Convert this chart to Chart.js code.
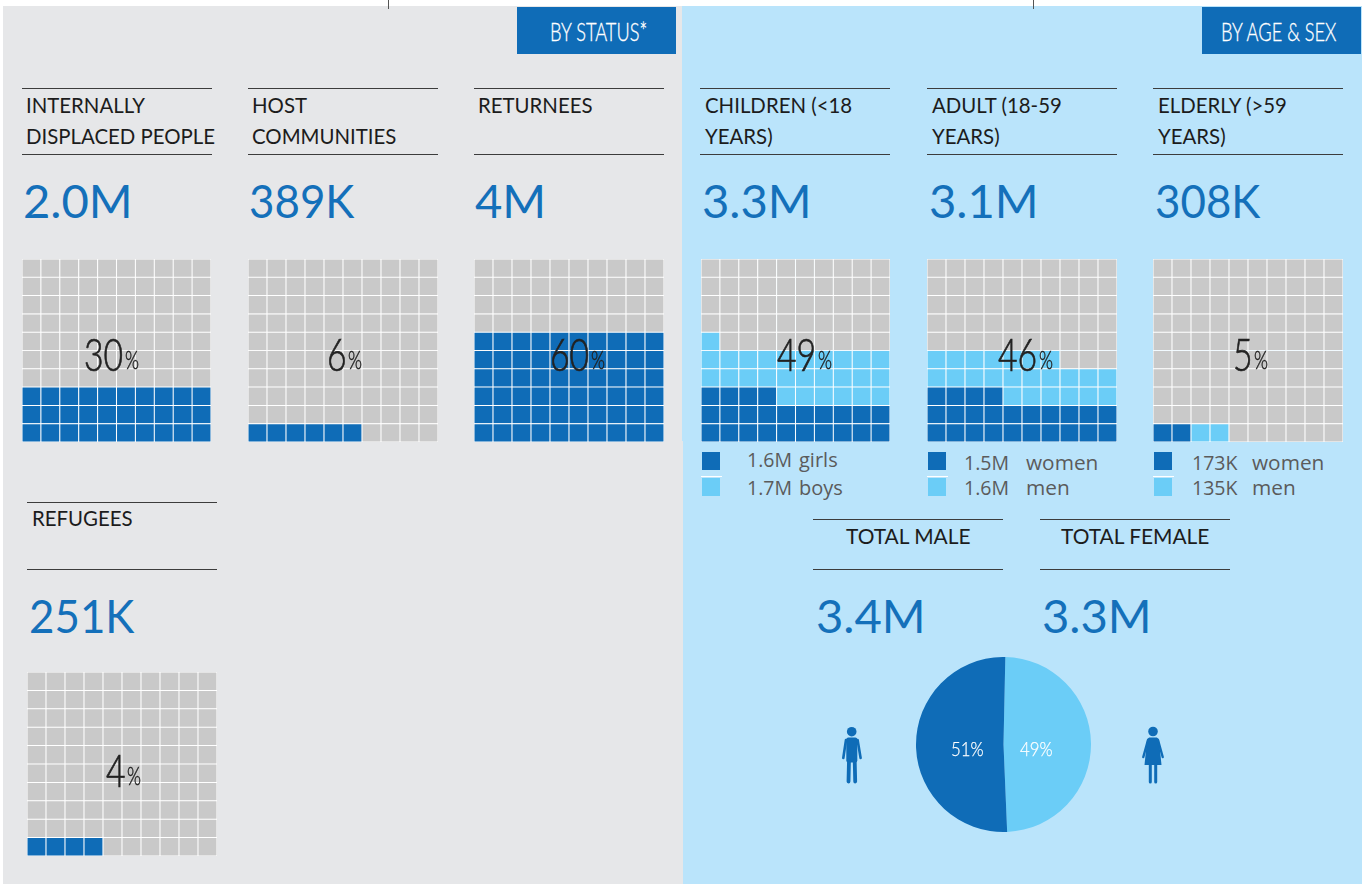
<!DOCTYPE html>
<html><head><meta charset="utf-8">
<script src="https://cdn.jsdelivr.net/npm/chart.js@4"></script>
<style>
html,body{margin:0;padding:0;background:#fff;overflow:hidden}
#page{position:relative;width:1369px;height:884px;overflow:hidden;font-family:Lato,sans-serif}
.abs{position:absolute}
.t{position:absolute;white-space:nowrap;transform-origin:left center;line-height:1}
.title{font-size:20.4px;color:#1c1c1c}
.big{font-size:47.2px;color:#1470ba}
.num{font-family:Lato;font-weight:300;-webkit-text-stroke:.7px #222;font-size:45px;color:#222;transform:scaleX(.75)}
.pct{font-family:Lato;font-weight:300;-webkit-text-stroke:.45px #222;font-size:25px;color:#222;transform:scaleX(.72)}
.leg{font-family:"Open Sans";font-size:19.5px;color:#5b5b5b}
.pie{font-family:Lato;font-weight:300;-webkit-text-stroke:.25px #fff;font-size:20.5px;color:#fff;transform:scaleX(.82)}
.btn{font-family:Lato;font-weight:300;-webkit-text-stroke:.35px #fff;font-size:26px;color:#fff;transform:scaleX(.7)}
canvas{position:absolute}
</style></head><body><div id="page"></div>
<script>
// ---- data ----
const statusTitles = [["INTERNALLY","DISPLACED PEOPLE"],["HOST","COMMUNITIES"],["RETURNEES"],["REFUGEES"]];
const statusTotals = ["2.0M","389K","4M","251K"];
const statusPercents = [30,6,60,4];
const statusCells = [30,6,60,4];
const ageTitles = [["CHILDREN (<18","YEARS)"],["ADULT (18-59","YEARS)"],["ELDERLY (>59","YEARS)"]];
const ageTotals = ["3.3M","3.1M","308K"];
const agePercents = [49,46,5];
const ageDarkCells = [24,24,2];
const ageLightCells = [27,23,2];
const legendDarkValues = ["1.6M","1.5M","173K"];
const legendLightValues = ["1.7M","1.6M","135K"];
const legendDarkNames = ["girls","women","women"];
const legendLightNames = ["boys","men","men"];
const sexLabels = ["Female","Male"];
const sexShares = [49,51];
const sexTotals = ["3.4M","3.3M"];
const sexTitles = ["TOTAL MALE","TOTAL FEMALE"];
const panelButtons = ["BY STATUS*","BY AGE & SEX"];

const DARK="#0f6cb7", LIGHT="#6bcdf7", GREY="#c9c9c9";
const page=document.getElementById('page');
function box(x,y,w,h,c){const d=document.createElement('div');d.className='abs';d.style.cssText=`left:${x}px;top:${y}px;width:${w}px;height:${h}px;background:${c}`;page.appendChild(d);return d;}
function txt(x,yc,s,cls,extra){const d=document.createElement('div');d.className='t '+cls;d.textContent=s;d.style.left=x+'px';d.style.top=yc+'px';if(extra)d.style.cssText+=extra;page.appendChild(d);
  d.style.marginTop=(-d.offsetHeight/2)+'px';return d;}
function rule(x,y,w){box(x,y,w,1,'#3c3c3c');}

box(3,6,680,878,'#e6e7e9');
box(683,6,679,878,'#bae4fb');
box(682,6,1,435,'#bae4fb');
box(388,0,1,9,'#555');box(1033,0,1,9,'#555');
box(517,7,159,47,DARK);box(1202,7,159,47,DARK);
txt(550,30.5,panelButtons[0],'btn');txt(1221,30.5,panelButtons[1],'btn');

function waffle(x,y,w,h,dark,light){
  const rows=[0,1,2,3,4,5,6,7,8,9], cols=['1','2','3','4','5','6','7','8','9','10'];
  const c=document.createElement('canvas');c.width=w;c.height=h;c.style.cssText=`left:${x}px;top:${y}px;width:${w}px;height:${h}px`;page.appendChild(c);
  new Chart(c,{type:'bar',data:{labels:cols,datasets:rows.map(r=>({
    data:cols.map(()=>1),
    backgroundColor:cols.map((_,i)=>{const n=r*10+i;return n<dark?DARK:n<dark+light?LIGHT:GREY;}),
    borderColor:'#fff',borderWidth:0.85,borderSkipped:false,barPercentage:1,categoryPercentage:1}))},
    options:{responsive:false,animation:false,layout:{padding:0},
      plugins:{legend:{display:false},tooltip:{enabled:false}},
      scales:{x:{stacked:true,display:false},y:{stacked:true,display:false,min:0,max:10}}}});
}
function bigText(x,y,s){txt(x,y,s,'big',s.endsWith('K')?'transform:scaleX(.93);':'');}
function header(x,lines,total,wx,wy,ww,wh,dark,light,pct,pctx,pcty,ruleTop,ruleBot,bigx,bigy,tx,ty){
  rule(x,ruleTop,190);rule(x,ruleBot,190);
  lines.forEach((l,i)=>txt(tx,ty+i*31,l,'title'));
  bigText(bigx,bigy,total);
  waffle(wx,wy,ww,wh,dark,light);
  const n=txt(pctx,pcty,String(pct),'num');
  txt(pctx+n.offsetWidth*0.75+1.5,pcty+5,'%','pct');
}
const xs=[22,248,474], ws=[189,190,190];
[0,1,2].forEach(i=>header(xs[i],statusTitles[i],statusTotals[i],xs[i],259,ws[i],183,statusCells[i],0,statusPercents[i],[84,327,550][i],354,88,154,xs[i]+1,199.5,xs[i]+4,105));
header(27,statusTitles[3],statusTotals[3],27,672,190,184,statusCells[3],0,statusPercents[3],106,770,502,569,29,614.5,32,518);
const ax=[700,927,1153], awx=[701,927,1153], aws=[189,190,190];
[0,1,2].forEach(i=>header(ax[i],ageTitles[i],ageTotals[i],awx[i],259,aws[i],183,ageDarkCells[i],ageLightCells[i],agePercents[i],[777,998,1233][i],354,88,154,ax[i]+2,199.5,ax[i]+5,105));

// legends
const lsq=[702,928,1154], lv=[747,964,1192], ln=[799,1026,1252], ly1=[460,463,463], nameSize=[20,20.8,20.8], ny=[0,-.5,-.5];
[0,1,2].forEach(i=>{
  box(lsq[i],452,18,18,DARK);
  box(lsq[i]-1.5,476,21,1,'#fff');
  box(lsq[i],478,18,17.5,LIGHT);
  txt(lv[i],ly1[i],legendDarkValues[i],'leg');txt(ln[i],ly1[i]+ny[i],legendDarkNames[i],'leg','font-size:'+nameSize[i]+'px;');
  txt(lv[i],488,legendLightValues[i],'leg');txt(ln[i],488+ny[i],legendLightNames[i],'leg','font-size:'+nameSize[i]+'px;');
});

// totals
rule(813,519,190);rule(813,569,190);rule(1040,519,190);rule(1040,569,190);
txt(846,536,sexTitles[0],'title','font-size:20.9px;');txt(1061,536,sexTitles[1],'title','font-size:20.9px;');
bigText(816,614.5,sexTotals[0]);bigText(1042,614.5,sexTotals[1]);

const pc=document.createElement('canvas');pc.width=175;pc.height=175;pc.style.cssText='left:916px;top:657px;width:175px;height:175px';page.appendChild(pc);
new Chart(pc,{type:'pie',data:{labels:sexLabels,datasets:[{data:sexShares,backgroundColor:[LIGHT,DARK],borderWidth:0}]},
  options:{responsive:false,animation:false,rotation:1.2,layout:{padding:0},plugins:{legend:{display:false},tooltip:{enabled:false}}}});
txt(951,748,sexShares[1]+'%','pie');
txt(1020,748,sexShares[0]+'%','pie');

// person icons
const ns='http://www.w3.org/2000/svg';
const holder=document.createElement('div');
holder.innerHTML=`<svg xmlns="${ns}" width="1369" height="884" style="position:absolute;left:0;top:0;pointer-events:none">
<g fill="${DARK}" stroke="none"><circle cx="851.7" cy="731.7" r="4.8"/><rect x="846.3" y="737.5" width="11" height="25" rx="2"/>
<circle cx="1153" cy="731.5" r="4.8"/><path d="M1149.2 737.5H1156.8Q1158.5 738 1159 740L1161.5 765H1144.5L1147 740Q1147.5 738 1149.2 737.5Z"/></g>
<g stroke="${DARK}" fill="none" stroke-linecap="round">
<path stroke-width="2.6" d="M846 740L843.3 758M857.6 740L860.6 758"/>
<path stroke-width="3.8" d="M849 760L848.5 781.5M854.7 760L855.2 781.5"/>
<path stroke-width="2.4" d="M1148 740L1143.3 757M1158 740L1162.7 757"/>
<path stroke-width="3" d="M1150.3 765V782M1155.7 765V782"/></g></svg>`;
page.appendChild(holder);
</script></body></html>
